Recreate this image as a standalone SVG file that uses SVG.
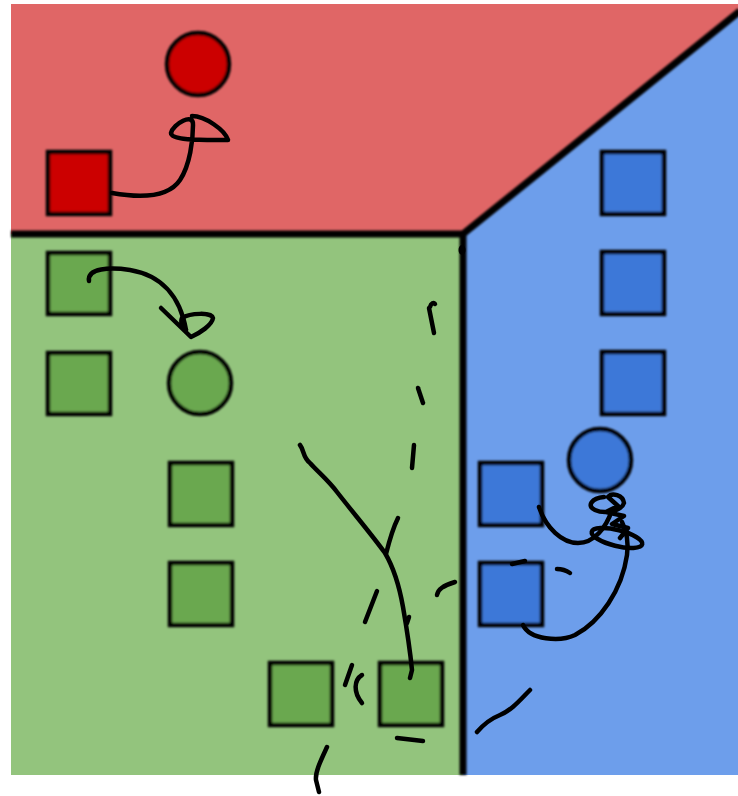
<svg xmlns="http://www.w3.org/2000/svg" width="738" height="796" viewBox="0 0 738 796">
<defs>
<filter id="soft" x="-10%" y="-10%" width="120%" height="120%"><feGaussianBlur stdDeviation="0.8"/></filter>
<style>
.node{stroke:#000;stroke-width:4.5;filter:url(#soft)}
.r{fill:#cc0000}.g{fill:#6aa84f}.b{fill:#3c78d8}
.border{stroke:#000;stroke-width:7;fill:none;filter:url(#soft)}
.pen{fill:none;stroke:#000;stroke-width:4.5;stroke-linecap:round;stroke-linejoin:round}
</style>
</defs>
<rect width="738" height="796" fill="#ffffff"/>
<g id="regions">
<polygon points="11,4 738,4 738,12 463,234 11,234" fill="#e06666"/>
<rect x="11" y="234" width="452" height="541" fill="#93c47d"/>
<polygon points="738,12 738,775 463,775 463,234" fill="#6d9eeb"/>
<path class="border" d="M11,234 L463,234 L740,11 M463,234 L463,775"/>
<ellipse cx="462" cy="250" rx="3.5" ry="5" fill="#000"/>
</g>
<g id="red-circle"><circle class="node r" cx="198" cy="64" r="31"/></g>
<g id="red-square"><rect class="node r" x="48" y="152" width="62" height="62"/></g>
<g id="green-square-1"><rect class="node g" x="48" y="253" width="62" height="61"/></g>
<g id="green-square-2"><rect class="node g" x="48" y="353" width="62" height="61"/></g>
<g id="green-circle"><circle class="node g" cx="200" cy="383" r="31"/></g>
<g id="green-square-3"><rect class="node g" x="170" y="463" width="62" height="62"/></g>
<g id="green-square-4"><rect class="node g" x="170" y="563" width="62" height="62"/></g>
<g id="green-square-5"><rect class="node g" x="270" y="663" width="62" height="62"/></g>
<g id="green-square-6"><rect class="node g" x="380" y="663" width="62" height="62"/></g>
<g id="blue-square-1"><rect class="node b" x="602" y="152" width="62" height="62"/></g>
<g id="blue-square-2"><rect class="node b" x="602" y="252" width="62" height="62"/></g>
<g id="blue-square-3"><rect class="node b" x="602" y="352" width="62" height="62"/></g>
<g id="blue-circle"><circle class="node b" cx="600" cy="460" r="31"/></g>
<g id="blue-square-4"><rect class="node b" x="480" y="463" width="62" height="62"/></g>
<g id="blue-square-5"><rect class="node b" x="480" y="563" width="62" height="62"/></g>
<g id="connectors" class="pen">
<path d="M112,193 C 140,198 168,198 180,180 C 190,165 193,140 193,125 C 194,112 173,124 171,133 C 171,141 205,140 228,140 C 225,130 205,116 192,116"/>
<path d="M89,281 C 87,268 110,267 130,270 C 160,275 180,295 186,330"/>
<path d="M161,308 L191,337 C 200,333 212,325 213,318 C 212,312 190,313 182,318 C 180,322 183,328 186,330"/>
<path d="M430,307 C 431,303 434,302 435,304 M429,308 L434,333"/>
<path d="M418,388 L423,403"/>
<path d="M414,445 L412,468"/>
<path d="M398,518 C 392,530 389,542 386,554"/>
<path d="M377,591 L365,622"/>
<path d="M409,617 L407,623"/>
<path d="M352,665 L345,685"/>
<path d="M362,675 C 354,680 353,692 362,703"/>
<path d="M397,738 L423,741"/>
<path d="M327,747 C 321,760 315,772 316,780 L319,792"/>
<path d="M437,595 C 438,589 443,586 455,582"/>
<path d="M512,564 L525,561"/>
<path d="M557,569 C 562,569 567,571 570,573"/>
<path d="M477,732 C 483,725 490,719 500,715 C 512,710 520,700 530,690"/>
<path d="M300,445 C 304,450 303,458 310,463 C 318,472 328,480 337,492 C 355,515 372,535 385,553 C 395,570 400,590 403,607 C 407,630 410,650 412,670 L410,678"/>
<path d="M539,507 C 546,528 562,543 578,543 C 594,543 606,528 612,510"/>
<path d="M604,497 C 592,498 586,506 595,510 C 606,515 622,510 624,503 C 623,495 612,492 608,497 L618,506 L606,512 L624,516 L612,524 L628,528 L620,538"/>
<ellipse cx="617" cy="538" rx="26" ry="8" transform="rotate(14 617 538)"/>
<path d="M523,625 C 530,640 560,642 575,635 C 600,622 622,590 627,555 C 629,540 626,530 622,522"/>
</g>
</svg>
